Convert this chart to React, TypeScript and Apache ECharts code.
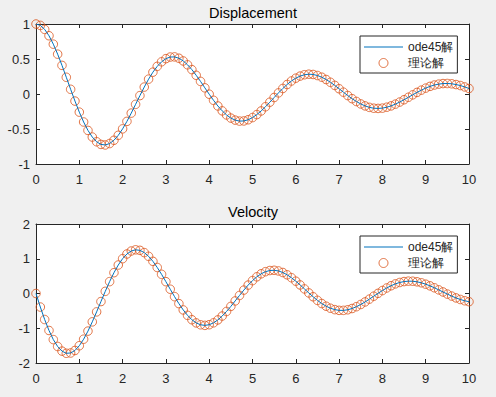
import React, { useEffect, useRef } from "react";
import * as echarts from "echarts";

const tValues = [
  0, 0.1, 0.2, 0.3, 0.4, 0.5, 0.6, 0.7, 0.8, 0.9,
  1, 1.1, 1.2, 1.3, 1.4, 1.5, 1.6, 1.7, 1.8, 1.9,
  2, 2.1, 2.2, 2.3, 2.4, 2.5, 2.6, 2.7, 2.8, 2.9,
  3, 3.1, 3.2, 3.3, 3.4, 3.5, 3.6, 3.7, 3.8, 3.9,
  4, 4.1, 4.2, 4.3, 4.4, 4.5, 4.6, 4.7, 4.8, 4.9,
  5, 5.1, 5.2, 5.3, 5.4, 5.5, 5.6, 5.7, 5.8, 5.9,
  6, 6.1, 6.2, 6.3, 6.4, 6.5, 6.6, 6.7, 6.8, 6.9,
  7, 7.1, 7.2, 7.3, 7.4, 7.5, 7.6, 7.7, 7.8, 7.9,
  8, 8.1, 8.2, 8.3, 8.4, 8.5, 8.6, 8.7, 8.8, 8.9,
  9, 9.1, 9.2, 9.3, 9.4, 9.5, 9.6, 9.7, 9.8, 9.9,
  10,
];

const displacement = [
  1.0, 0.98, 0.923, 0.832, 0.712, 0.569, 0.409, 0.239, 0.067, -0.101,
  -0.259, -0.4, -0.52, -0.615, -0.682, -0.72, -0.728, -0.708, -0.661, -0.59,
  -0.498, -0.391, -0.273, -0.148, -0.023, 0.099, 0.212, 0.312, 0.395, 0.46,
  0.505, 0.528, 0.53, 0.511, 0.472, 0.417, 0.348, 0.267, 0.18, 0.088,
  -0.003, -0.09, -0.171, -0.241, -0.299, -0.344, -0.373, -0.387, -0.385, -0.368,
  -0.337, -0.294, -0.242, -0.182, -0.117, -0.05, 0.016, 0.079, 0.136, 0.186,
  0.226, 0.256, 0.275, 0.283, 0.279, 0.264, 0.24, 0.207, 0.167, 0.123,
  0.075, 0.026, -0.022, -0.067, -0.107, -0.142, -0.17, -0.191, -0.203, -0.206,
  -0.202, -0.189, -0.17, -0.145, -0.115, -0.082, -0.047, -0.012, 0.023, 0.055,
  0.084, 0.109, 0.128, 0.141, 0.149, 0.15, 0.146, 0.135, 0.121, 0.101,
  0.079,
];

const velocity = [
  0, -0.39, -0.749, -1.064, -1.326, -1.525, -1.658, -1.72, -1.712, -1.639,
  -1.503, -1.315, -1.082, -0.816, -0.529, -0.232, 0.062, 0.342, 0.598, 0.82,
  1.002, 1.137, 1.223, 1.257, 1.242, 1.177, 1.07, 0.926, 0.749, 0.552,
  0.34, 0.123, -0.09, -0.291, -0.473, -0.629, -0.755, -0.846, -0.9, -0.917,
  -0.898, -0.844, -0.76, -0.649, -0.517, -0.371, -0.214, -0.056, 0.098, 0.242,
  0.371, 0.48, 0.567, 0.628, 0.661, 0.668, 0.649, 0.604, 0.538, 0.454,
  0.355, 0.246, 0.132, 0.017, -0.094, -0.197, -0.289, -0.365, -0.424, -0.464,
  -0.485, -0.486, -0.468, -0.432, -0.38, -0.316, -0.243, -0.162, -0.078, 0.005,
  0.085, 0.159, 0.223, 0.277, 0.317, 0.343, 0.355, 0.353, 0.336, 0.308,
  0.268, 0.22, 0.165, 0.105, 0.044, -0.017, -0.074, -0.127, -0.172, -0.209,
  -0.236,
];

const titles = ["Displacement", "Velocity"];
const seriesNames = ["ode45解", "理论解"];
const yRanges = [
  { min: -1, max: 1, interval: 0.5 },
  { min: -2, max: 2, interval: 1 },
];

const FONT = "'Liberation Sans', Arial, Helvetica, sans-serif";
const AXIS_COLOR = "#262626";
const LINE_COLOR = "#0072BD";
const MARK_COLOR = "#D95319";

export default function App() {
  const ref = useRef<HTMLDivElement>(null);

  useEffect(() => {
    if (!ref.current) return;
    const chart = echarts.init(ref.current, undefined, { renderer: "svg", width: 496, height: 397 });

    const grids = [
      { left: 36, top: 24, width: 433, height: 140 },
      { left: 36, top: 224, width: 433, height: 139 },
    ];

    const axisLine = { show: true, onZero: false, lineStyle: { color: AXIS_COLOR, width: 1 } };
    const axisTick = { show: true, inside: true, length: 4, lineStyle: { color: AXIS_COLOR, width: 1 } };

    const xAxes: any[] = [];
    const yAxes: any[] = [];
    grids.forEach((_, g) => {
      ["bottom", "top"].forEach((pos) => {
        xAxes.push({
          type: "value",
          gridIndex: g,
          position: pos,
          min: 0,
          max: 10,
          interval: 1,
          axisLine,
          axisTick,
          splitLine: { show: false },
          axisLabel: {
            show: pos === "bottom",
            color: AXIS_COLOR,
            fontSize: 13,
            fontFamily: FONT,
            margin: 9,
          },
        });
      });
      ["left", "right"].forEach((pos) => {
        yAxes.push({
          type: "value",
          gridIndex: g,
          position: pos,
          min: yRanges[g].min,
          max: yRanges[g].max,
          interval: yRanges[g].interval,
          axisLine,
          axisTick,
          splitLine: { show: false },
          axisLabel: {
            show: pos === "left",
            color: AXIS_COLOR,
            fontSize: 13,
            fontFamily: FONT,
            margin: 6,
          },
        });
      });
    });

    const dataSets = [displacement, velocity];
    const series: any[] = [];
    dataSets.forEach((vals, g) => {
      const pairs = tValues.map((t, i) => [t, vals[i]]);
      series.push({
        name: seriesNames[0],
        type: "line",
        xAxisIndex: g * 2,
        yAxisIndex: g * 2,
        data: pairs,
        symbol: "none",
        showSymbol: false,
        lineStyle: { color: LINE_COLOR, width: 1 },
        itemStyle: { color: LINE_COLOR },
      });
      series.push({
        name: seriesNames[1],
        type: "scatter",
        xAxisIndex: g * 2,
        yAxisIndex: g * 2,
        data: pairs,
        symbol: "circle",
        symbolSize: 8.5,
        itemStyle: { color: "rgba(0,0,0,0)", borderColor: MARK_COLOR, borderWidth: 1 },
      });
    });

    const legendTops = [36, 236];
    const legends = legendTops.map((top) => ({
      orient: "vertical",
      left: 360,
      top,
      data: [
        {
          name: seriesNames[0],
          icon: "path://M0,0L39,0L39,1L0,1Z",
          itemStyle: { color: LINE_COLOR, borderWidth: 0 },
        },
        {
          name: seriesNames[1],
          icon: "circle",
          itemStyle: { color: "rgba(0,0,0,0)", borderColor: MARK_COLOR, borderWidth: 1 },
        },
      ],
      itemWidth: 39,
      itemHeight: 9,
      itemGap: 0,
      padding: [3, 4, 2, 4],
      backgroundColor: "#ffffff",
      borderColor: AXIS_COLOR,
      borderWidth: 1,
      borderRadius: 0,
      selectedMode: false,
      textStyle: { color: AXIS_COLOR, fontSize: 12, fontFamily: FONT, lineHeight: 16 },
    }));

    const titleTops = [5, 204];
    const title = titles.map((text, i) => ({
      text,
      left: 253,
      top: titleTops[i],
      textAlign: "center",
      padding: 0,
      textStyle: { color: "#000", fontSize: 14.5, fontWeight: "normal", fontFamily: FONT },
    }));

    chart.setOption({
      animation: false,
      backgroundColor: "#f0f0f0",
      title,
      grid: grids.map((g) => ({ ...g, show: true, backgroundColor: "#ffffff", borderWidth: 0 })),
      xAxis: xAxes,
      yAxis: yAxes,
      legend: legends,
      series,
    });

    return () => chart.dispose();
  }, []);

  return (
    <div
      ref={ref}
      style={{ position: "absolute", left: 0, top: 0, width: 496, height: 397 }}
    />
  );
}
